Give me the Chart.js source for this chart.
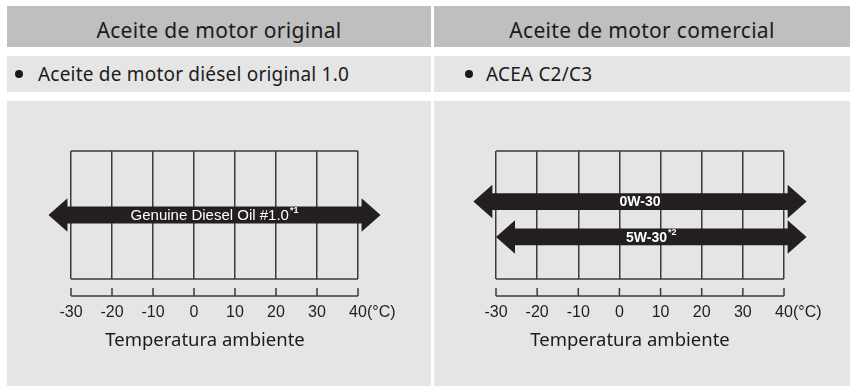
<!DOCTYPE html>
<html>
<head>
<meta charset="utf-8">
<script src="https://cdn.jsdelivr.net/npm/chart.js@4.4.0/dist/chart.umd.min.js"></script>
<style>
  body { margin: 0; width: 851px; height: 386px; background: #fff; position: relative; overflow: hidden;
         font-family: "Noto Sans", sans-serif; color: #1b1b1b; }
  .cell { position: absolute; box-sizing: border-box; }
  .head { top: 6px; height: 41px; background: #bfbfbf; font-size: 21px; letter-spacing: 0.3px; text-align: center; line-height: 48px; }
  .row { top: 56px; height: 36px; background: #e5e5e5; font-size: 19px; letter-spacing: 0.2px; line-height: 37px; }
  .plot { top: 101px; height: 285px; background: #e5e5e5; }
  .left { left: 7px; width: 424px; }
  .right { left: 434px; width: 416px; }
  .dot { position: absolute; top: 14px; width: 8px; height: 8px; border-radius: 50%; background: #1b1b1b; }
  .txt { position: absolute; top: 0; white-space: nowrap; }
  .caption { position: absolute; top: 226px; width: 300px; text-align: center; font-size: 18.5px; line-height: 24px; }
  canvas { position: absolute; left: 0; top: 0; }
</style>
</head>
<body>
<div class="cell head left">Aceite de motor original</div>
<div class="cell head right">Aceite de motor comercial</div>
<div class="cell row left"><span class="dot" style="left:8px"></span><span class="txt" style="left:31px">Aceite de motor diésel original 1.0</span></div>
<div class="cell row right"><span class="dot" style="left:31px"></span><span class="txt" style="left:52px">ACEA C2/C3</span></div>
<div class="cell plot left">
  <canvas id="original" width="424" height="285"></canvas>
  <div class="caption" style="left:48px">Temperatura ambiente</div>
</div>
<div class="cell plot right">
  <canvas id="commercial" width="416" height="285"></canvas>
  <div class="caption" style="left:46px">Temperatura ambiente</div>
</div>

<script>
// temperature scale shared by both charts
const tempTicks = [-30, -20, -10, 0, 10, 20, 30, 40];
const tempUnit = '(°C)';

// genuine oil
const originalGrades = ['Genuine Diesel Oil #1.0'];
const originalNotes = ['*1'];
const originalLow = [-35.5];
const originalHigh = [45.5];

// commercial oils
const commercialGrades = ['0W-30', '5W-30'];
const commercialNotes = ['', '*2'];
const commercialLow = [-35.5, -30];
const commercialHigh = [45.5, 45.5];

const lineColor = '#3b3b3b';
const arrowColor = '#231f20';

// box top/bottom, ruler under the grid, unit after the last tick
const frame = {
  id: 'frame',
  beforeDatasetsDraw(chart) {
    const { ctx, chartArea: a } = chart;
    ctx.save();
    ctx.strokeStyle = lineColor;
    ctx.lineWidth = 1.5;
    ctx.beginPath();
    ctx.moveTo(a.left, a.top); ctx.lineTo(a.right, a.top);
    ctx.moveTo(a.left, a.bottom); ctx.lineTo(a.right, a.bottom);
    ctx.stroke();
    ctx.restore();
  },
  afterDraw(chart) {
    const { ctx, chartArea: a } = chart;
    const xs = chart.scales.x;
    const y0 = a.bottom + 17;
    ctx.save();
    ctx.strokeStyle = lineColor;
    ctx.lineWidth = 1.5;
    ctx.beginPath();
    ctx.moveTo(xs.getPixelForValue(tempTicks[0]), y0);
    ctx.lineTo(xs.getPixelForValue(tempTicks[tempTicks.length - 1]), y0);
    tempTicks.forEach(t => {
      const px = xs.getPixelForValue(t);
      ctx.moveTo(px, y0);
      ctx.lineTo(px, y0 - 8);
    });
    ctx.stroke();

    const items = xs.getLabelItems();
    const last = items[items.length - 1];
    const [tx, ty] = last.options.translation;
    ctx.font = '16px "Liberation Sans"';
    ctx.fillStyle = '#1e1e1e';
    ctx.textAlign = 'left';
    ctx.textBaseline = last.options.textBaseline;
    ctx.fillText(tempUnit, tx + ctx.measureText(String(last.label)).width / 2, ty + last.textOffset);
    ctx.restore();
  }
};

// double-headed arrows over each bar's range, with the grade written inside
const arrows = {
  id: 'arrows',
  afterDatasetsDraw(chart, args, opts) {
    const { ctx } = chart;
    const ds = chart.data.datasets[0];
    const head = 19, hh = 16.8, bh = 8.4;
    chart.getDatasetMeta(0).data.forEach((bar, i) => {
      const l = Math.min(bar.base, bar.x), r = Math.max(bar.base, bar.x), y = bar.y;
      ctx.save();
      ctx.fillStyle = arrowColor;
      ctx.beginPath();
      ctx.moveTo(l, y);
      ctx.lineTo(l + head, y - hh);
      ctx.lineTo(l + head, y - bh);
      ctx.lineTo(r - head, y - bh);
      ctx.lineTo(r - head, y - hh);
      ctx.lineTo(r, y);
      ctx.lineTo(r - head, y + hh);
      ctx.lineTo(r - head, y + bh);
      ctx.lineTo(l + head, y + bh);
      ctx.lineTo(l + head, y + hh);
      ctx.closePath();
      ctx.fill();

      const main = ds.grades[i], note = ds.notes[i];
      ctx.fillStyle = '#fff';
      ctx.textBaseline = 'middle';
      ctx.textAlign = 'left';
      ctx.font = opts.font;
      const w1 = ctx.measureText(main).width;
      ctx.font = 'bold 9px "Liberation Sans"';
      const w2 = note ? ctx.measureText(note).width + 1 : 0;
      const sx = (l + r) / 2 - (w1 + w2) / 2;
      ctx.font = opts.font;
      ctx.fillText(main, sx, y + 1);
      if (note) {
        ctx.font = 'bold 9px "Liberation Sans"';
        ctx.fillText(note, sx + w1 + 1, y - 4);
      }
      ctx.restore();
    });
  }
};

function tempChart(id, grades, notes, low, high, yMin, yMax, pad, labelFont) {
  return new Chart(document.getElementById(id), {
    type: 'bar',
    data: {
      datasets: [{
        grades: grades,
        notes: notes,
        data: grades.map((g, i) => ({ x: [low[i], high[i]], y: i })),
        backgroundColor: 'rgba(0,0,0,0)',
        borderWidth: 0
      }]
    },
    options: {
      indexAxis: 'y',
      responsive: false,
      animation: false,
      layout: { padding: { left: pad[0], right: pad[1], top: 50, bottom: 0 } },
      plugins: { legend: { display: false }, tooltip: { enabled: false }, arrows: { font: labelFont } },
      scales: {
        x: {
          type: 'linear',
          min: tempTicks[0],
          max: tempTicks[tempTicks.length - 1],
          afterBuildTicks: s => { s.ticks = tempTicks.map(v => ({ value: v })); },
          afterFit: s => { s.height = 107; },
          grid: { color: lineColor, lineWidth: 1.5, drawTicks: false },
          border: { display: false },
          ticks: {
            padding: 24,
            color: '#1e1e1e',
            font: { family: 'Liberation Sans', size: 16 },
            maxRotation: 0,
            autoSkip: false,
            callback: v => String(v)
          }
        },
        y: { type: 'linear', display: false, min: yMin, max: yMax, reverse: true }
      }
    },
    plugins: [frame, arrows]
  });
}

tempChart('original', originalGrades, originalNotes, originalLow, originalHigh,
  -1.55, 1.55, [64, 73], '15px "Liberation Sans"');
tempChart('commercial', commercialGrades, commercialNotes, commercialLow, commercialHigh,
  -1.17, 1.93, [62, 66], 'bold 14px "Liberation Sans"');
</script>
</body>
</html>
